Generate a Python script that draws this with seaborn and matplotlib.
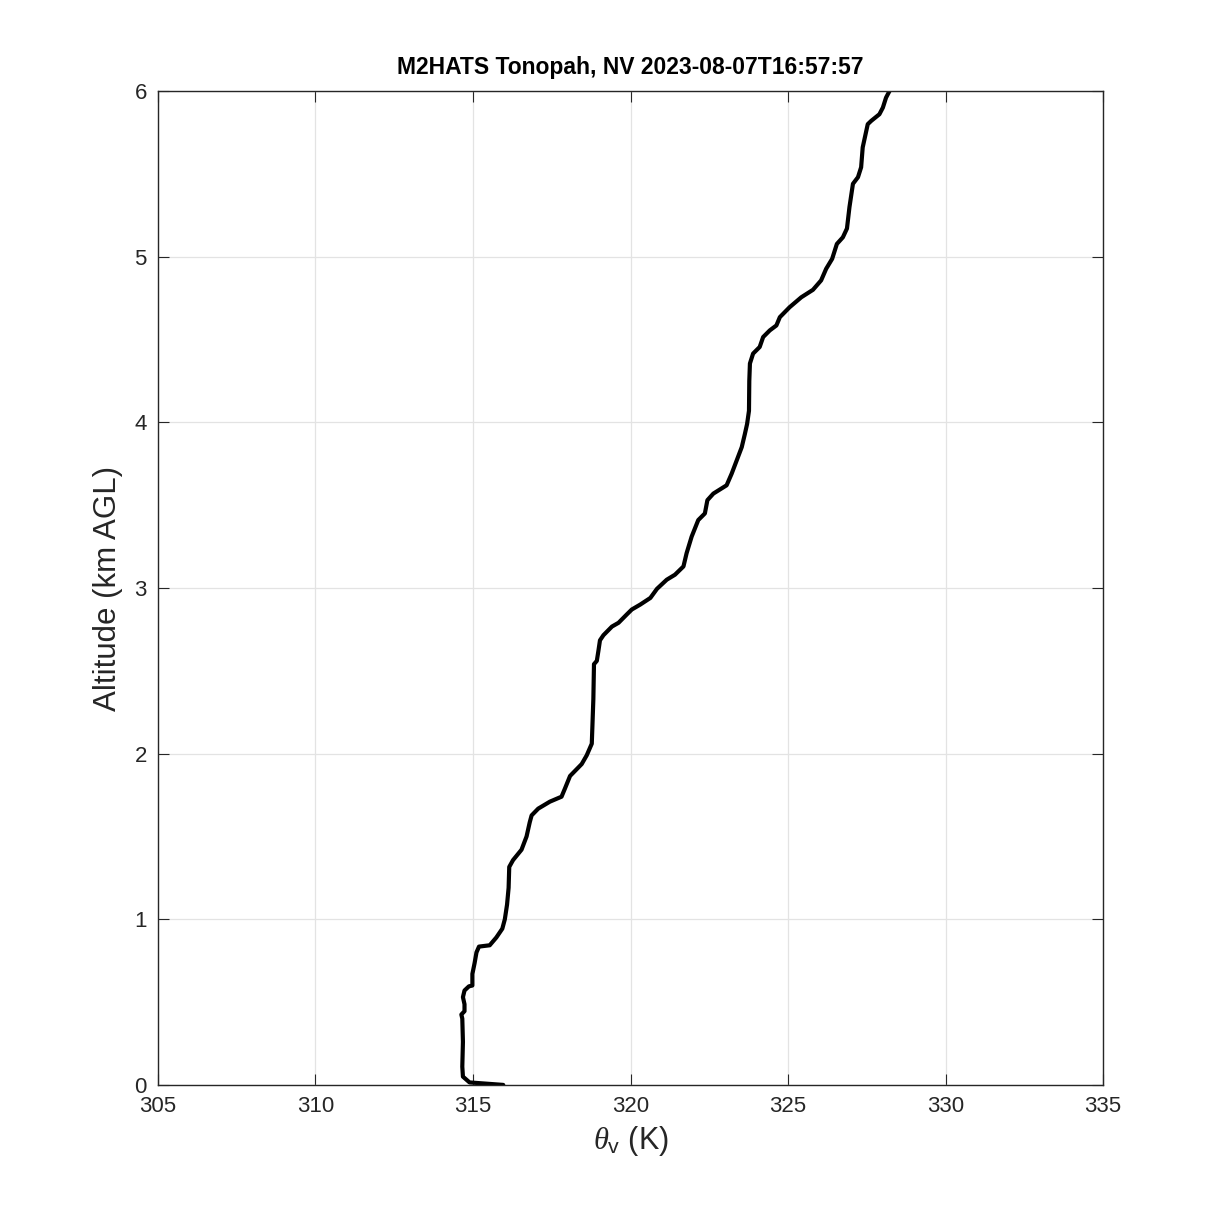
"""
Virtual potential temperature profile, M2HATS sounding at Tonopah, NV
"""

import matplotlib
matplotlib.use('Agg')
import matplotlib.pyplot as plt
import pandas as pd
import seaborn as sns

# values
theta_v = [315.96, 314.89, 314.68, 314.66, 314.68, 314.66, 314.63, 314.73,
           314.73, 314.68, 314.73, 314.87, 314.98, 314.98, 315.05, 315.11,
           315.19, 315.53, 315.74, 315.93, 316.01, 316.08, 316.13, 316.15,
           316.27, 316.54, 316.70, 316.80, 316.86, 317.07, 317.44, 317.81,
           317.92, 318.08, 318.45, 318.61, 318.77, 318.79, 318.82, 318.84,
           318.93, 318.98, 319.03, 319.14, 319.41, 319.62, 319.88, 320.04,
           320.31, 320.63, 320.84, 321.15, 321.41, 321.68, 321.78, 321.94,
           322.15, 322.36, 322.44, 322.63, 323.05, 323.21, 323.37, 323.53,
           323.63, 323.70, 323.76, 323.77, 323.79, 323.89, 324.10, 324.21,
           324.42, 324.63, 324.74, 325.05, 325.42, 325.79, 326.05, 326.21,
           326.40, 326.55, 326.74, 326.87, 326.95, 327.06, 327.22, 327.32,
           327.37, 327.53, 327.64, 327.90, 328.01, 328.11, 328.22]
altitude_km = [0.00, 0.015, 0.05, 0.11, 0.26, 0.40, 0.425, 0.445,
               0.487, 0.53, 0.57, 0.595, 0.60, 0.67, 0.735, 0.80,
               0.835, 0.843, 0.89, 0.943, 1.00, 1.088, 1.19, 1.316,
               1.357, 1.42, 1.50, 1.585, 1.627, 1.668, 1.71, 1.74,
               1.79, 1.865, 1.937, 1.99, 2.06, 2.166, 2.33, 2.54,
               2.56, 2.62, 2.684, 2.715, 2.767, 2.79, 2.84, 2.87,
               2.90, 2.94, 2.995, 3.05, 3.08, 3.13, 3.21, 3.31,
               3.41, 3.45, 3.53, 3.57, 3.62, 3.69, 3.77, 3.85,
               3.93, 3.99, 4.07, 4.25, 4.355, 4.415, 4.455, 4.515,
               4.555, 4.585, 4.635, 4.695, 4.755, 4.80, 4.857, 4.927,
               4.987, 5.077, 5.117, 5.17, 5.30, 5.44, 5.48, 5.54,
               5.66, 5.80, 5.82, 5.86, 5.90, 5.96, 6.00]
x_ticks = [305, 310, 315, 320, 325, 330, 335]
y_ticks = [0, 1, 2, 3, 4, 5, 6]
title = 'M2HATS Tonopah, NV 2023-08-07T16:57:57'

sns.set_theme(style='whitegrid')
plt.rcParams['font.family'] = ['Liberation Sans', 'DejaVu Sans']
plt.rcParams['mathtext.fontset'] = 'custom'
plt.rcParams['mathtext.rm'] = 'Liberation Sans'
plt.rcParams['mathtext.it'] = 'Liberation Serif:italic'


def main():
    fig = plt.figure(figsize=(12.19, 12.19), dpi=100)
    ax = fig.add_axes([0.1296, 0.110, 0.7753, 0.8153])

    df = pd.DataFrame({'theta': theta_v, 'alt': altitude_km})
    sns.lineplot(data=df, x='theta', y='alt', sort=False, estimator=None,
                 color='black', linewidth=3.0, ax=ax)

    ax.set_xlim(305, 335)
    ax.set_ylim(0, 6)
    ax.set_xticks(x_ticks)
    ax.set_yticks(y_ticks)
    ax.grid(True, color='#e3e3e3', linewidth=0.9)
    for s in ax.spines.values():
        s.set_color('#262626')
        s.set_linewidth(1.0)
    ax.tick_params(direction='in', length=8, width=0.8, color='#262626',
                   labelsize=16, labelcolor='#262626', top=True, right=True,
                   bottom=True, left=True, pad=8)

    ax.set_title(title, fontsize=16.5, fontweight='bold', color='black',
                 pad=12)
    ax.set_xlabel(r'$\it{\theta}_{\mathregular{v}}$ (K)', fontsize=22,
                  color='#262626', labelpad=5)
    ax.set_ylabel('Altitude (km AGL)', fontsize=22.5, color='#262626',
                  labelpad=8)

    plt.savefig('out.png', dpi=100)


if __name__ == '__main__':
    main()
